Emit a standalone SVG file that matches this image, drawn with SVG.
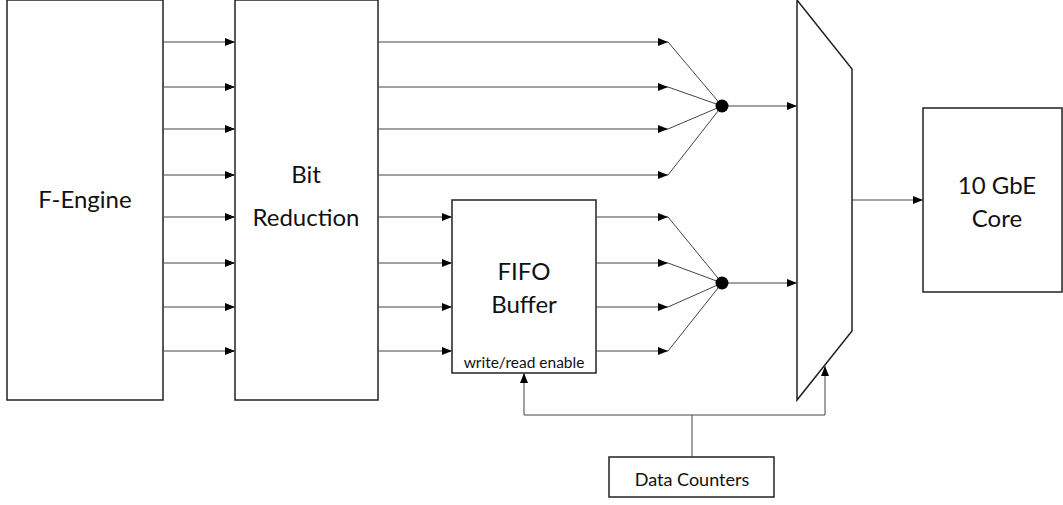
<svg xmlns="http://www.w3.org/2000/svg" width="1063" height="505" viewBox="0 0 1063 505">
<defs>
<marker id="ah" viewBox="0 0 10 8" refX="10" refY="4" markerWidth="10" markerHeight="8" markerUnits="userSpaceOnUse" orient="auto">
<path d="M0,0 L10,4 L0,8 Z" fill="#000"/>
</marker>
<style>
.box{fill:#fff;stroke:#222;stroke-width:1.5}
.ln{fill:none;stroke:#444;stroke-width:1}
.arr{fill:none;stroke:#444;stroke-width:1;marker-end:url(#ah)}
.t{font-family:Lato,"Open Sans",sans-serif;font-size:24px;fill:#111;text-anchor:middle}
.s{font-family:Lato,"Open Sans",sans-serif;font-size:18px;fill:#111;text-anchor:middle}
.xs{font-family:Lato,"Open Sans",sans-serif;font-size:15.5px;fill:#111;text-anchor:middle}
</style>
</defs>
<rect width="1063" height="505" fill="#fff"/>
<g id="fengine">
<rect class="box" x="7" y="0" width="156" height="400"/>
<text class="t" x="85" y="208">F-Engine</text>
</g>
<g id="bitreduction">
<rect class="box" x="235" y="0" width="143" height="400"/>
<text class="t" x="306" y="183">Bit</text>
<text class="t" x="306" y="226">Reduction</text>
</g>
<g id="fifo">
<rect class="box" x="452" y="200" width="144" height="173"/>
<text class="t" x="524" y="280">FIFO</text>
<text class="t" x="524" y="313">Buffer</text>
<text class="xs" x="524" y="368">write/read enable</text>
</g>
<g id="mux">
<path class="box" d="M797,0 L852,69 L852,331 L797,400 Z"/>
</g>
<g id="gbe">
<rect class="box" x="923" y="108" width="139" height="184"/>
<text class="t" x="997" y="194">10 GbE</text>
<text class="t" x="997" y="227">Core</text>
</g>
<g id="counters">
<rect class="box" x="609" y="457" width="165" height="40"/>
<text class="s" x="692" y="486">Data Counters</text>
</g>
<g id="connectors">
<path class="arr" d="M163,42 H235"/>
<path class="arr" d="M163,87 H235"/>
<path class="arr" d="M163,129 H235"/>
<path class="arr" d="M163,175 H235"/>
<path class="arr" d="M163,217 H235"/>
<path class="arr" d="M163,263 H235"/>
<path class="arr" d="M163,307 H235"/>
<path class="arr" d="M163,351 H235"/>
<path class="arr" d="M378,42 H668"/>
<path class="arr" d="M378,87 H668"/>
<path class="arr" d="M378,129 H668"/>
<path class="arr" d="M378,175 H668"/>
<path class="arr" d="M378,217 H452"/>
<path class="arr" d="M378,263 H452"/>
<path class="arr" d="M378,307 H452"/>
<path class="arr" d="M378,351 H452"/>
<path class="arr" d="M596,217 H668"/>
<path class="arr" d="M596,263 H668"/>
<path class="arr" d="M596,307 H668"/>
<path class="arr" d="M596,351 H668"/>
<path class="ln" d="M668,42 L722,106 M668,87 L722,106 M668,129 L722,106 M668,175 L722,106"/>
<path class="ln" d="M668,217 L722,283 M668,263 L722,283 M668,307 L722,283 M668,351 L722,283"/>
<path class="arr" d="M722,106 H797"/>
<path class="arr" d="M722,283 H797"/>
<path class="arr" d="M852,200 H923"/>
<path class="ln" d="M692,457 V415"/>
<path class="arr" d="M692,415 H524 V373"/>
<path class="arr" d="M692,415 H825 V366"/>
</g>
<g id="dot1"><circle cx="722" cy="106" r="6.5" fill="#000"/></g>
<g id="dot2"><circle cx="722" cy="283" r="6.5" fill="#000"/></g>
</svg>
